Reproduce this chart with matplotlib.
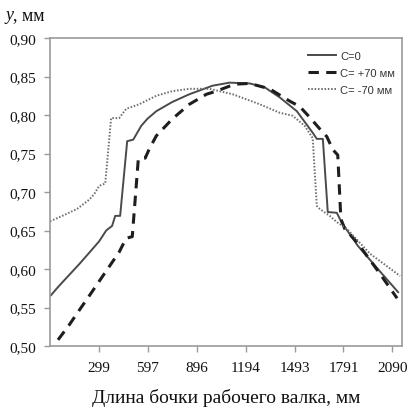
import matplotlib
matplotlib.use("Agg")
import matplotlib.pyplot as plt
import numpy as np

# ---- data ----
x_c0 = [6, 55, 116, 177, 239, 300, 343, 379, 398, 428, 471, 508, 557, 594, 649, 747, 851, 991,
        1095, 1218, 1310, 1401, 1506, 1603, 1628, 1665, 1695, 1750, 1781, 1879, 2013, 2124]
y_c0 = [0.566, 0.578, 0.592, 0.606, 0.621, 0.636, 0.650, 0.656, 0.669, 0.669, 0.766, 0.768, 0.786,
        0.795, 0.805, 0.817, 0.827, 0.838, 0.842, 0.841, 0.836, 0.823, 0.805, 0.777, 0.769, 0.769,
        0.674, 0.673, 0.660, 0.630, 0.597, 0.570]

x_p70 = [49, 116, 177, 239, 300, 361, 422, 465, 502, 539, 581, 606, 649, 747, 851, 955, 1016,
         1126, 1218, 1340, 1463, 1524, 1585, 1646, 1689, 1726, 1756, 1775, 1799, 1873, 2013, 2118]
y_p70 = [0.508, 0.527, 0.546, 0.565, 0.584, 0.603, 0.622, 0.640, 0.642, 0.743, 0.744, 0.756, 0.773,
         0.795, 0.814, 0.827, 0.831, 0.840, 0.841, 0.834, 0.818, 0.811, 0.797, 0.782, 0.772, 0.755,
         0.748, 0.665, 0.652, 0.635, 0.594, 0.562]

x_m70 = [0, 86, 165, 239, 269, 300, 337, 373, 422, 465, 545, 649, 747, 851, 973, 1114, 1279,
         1401, 1481, 1554, 1603, 1628, 1646, 1707, 1750, 1812, 1952, 2136]
y_m70 = [0.662, 0.670, 0.678, 0.690, 0.697, 0.708, 0.711, 0.796, 0.796, 0.808, 0.814, 0.825, 0.831,
         0.834, 0.834, 0.827, 0.814, 0.803, 0.799, 0.786, 0.770, 0.682, 0.678, 0.669, 0.661, 0.652,
         0.620, 0.591]

labels = ["C=0", "C= +70 мм", "C= -70 мм"]
x_ticks = [299, 597, 896, 1194, 1493, 1791, 2090]
y_ticks = [0.50, 0.55, 0.60, 0.65, 0.70, 0.75, 0.80, 0.85, 0.90]

W, H = 409, 410
fig = plt.figure(figsize=(W / 100, H / 100), dpi=100)
ax = fig.add_axes([50 / W, 1 - 347 / H, 352 / W, 308 / H])

ax.plot(x_c0, y_c0, color="#4a4a4a", lw=1.4, ls="-", label=labels[0])
ax.plot(x_p70, y_p70, color="#1e1e1e", lw=2.2, ls=(0, (3.4, 2.4)), label=labels[1])
ax.plot(x_m70, y_m70, color="#6e6e6e", lw=1.4, ls=(0, (0.8, 0.9)), label=labels[2])

ax.set_xlim(0, 2148)
ax.set_ylim(0.50, 0.90)
ax.set_xticks(x_ticks)
ax.set_xticklabels([str(t) for t in x_ticks])
ax.set_yticks(y_ticks)
ax.set_yticklabels([f"{v:.2f}".replace(".", ",") for v in y_ticks])

for s in ax.spines.values():
    s.set_color("#9a9a9a")
    s.set_linewidth(1.2)
ax.tick_params(axis="both", direction="out", length=4, width=1, color="#9a9a9a",
               labelsize=11, labelcolor="#111111")
ax.tick_params(axis="x", pad=7)
ax.tick_params(axis="y", pad=6)
for lab in ax.get_xticklabels() + ax.get_yticklabels():
    lab.set_fontfamily("Liberation Serif")

ax.set_xlabel("Длина бочки рабочего валка, мм", fontfamily="Liberation Serif",
              fontsize=14, color="#111111", labelpad=10)

fig.text(5 / W, 1 - 20 / H, "y", fontfamily="Liberation Serif", fontstyle="italic",
         fontsize=13, color="#111111")
fig.text(13 / W, 1 - 20 / H, ", мм", fontfamily="Liberation Serif",
         fontsize=13, color="#111111")

leg = ax.legend(loc="upper left", bbox_to_anchor=(0.733, 0.958), frameon=False,
                borderpad=0, borderaxespad=0, handlelength=2.5, handletextpad=0.4,
                labelspacing=0.65, prop={"family": "Liberation Sans", "size": 8})
for t in leg.get_texts():
    t.set_color("#333333")

fig.savefig("out.png", dpi=100)
